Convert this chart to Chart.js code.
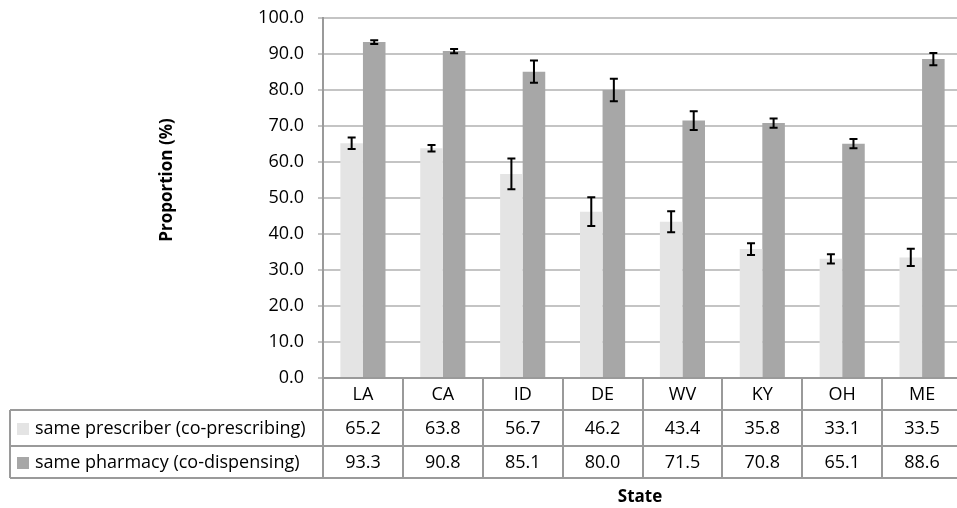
<!DOCTYPE html>
<html>
<head>
<meta charset="utf-8">
<script src="https://cdn.jsdelivr.net/npm/chart.js@4/dist/chart.umd.min.js"></script>
<style>
    html, body { margin: 0; padding: 0; background: #fff; overflow: hidden; }
    #wrap { width: 962px; height: 508px; }
</style>
</head>
<body>
<div id="wrap"><canvas id="chart" width="962" height="508"></canvas></div>
<script>
// --- data ---
const states = ['LA', 'CA', 'ID', 'DE', 'WV', 'KY', 'OH', 'ME'];
const prescriber = [65.2, 63.8, 56.7, 46.2, 43.4, 35.8, 33.1, 33.5];
const pharmacy = [93.3, 90.8, 85.1, 80.0, 71.5, 70.8, 65.1, 88.6];
const prescriberErr = [1.6, 0.9, 4.3, 4.0, 2.9, 1.6, 1.3, 2.4];
const pharmacyErr = [0.5, 0.6, 3.1, 3.1, 2.6, 1.3, 1.3, 1.7];
const seriesNames = ['same prescriber (co-prescribing)', 'same pharmacy (co-dispensing)'];
const yLabel = 'Proportion (%)';
const xLabel = 'State';

const lightGray = '#e4e4e4';
const darkGray = '#a7a7a7';
const lineGray = '#9a9a9a';
const FONT = '"Open Sans", Lato, sans-serif';

// error bars on top of each bar
const errorBars = {
    id: 'errorBars',
    afterDatasetsDraw(chart) {
        const ctx = chart.ctx;
        const y = chart.scales.y;
        const errs = [prescriberErr, pharmacyErr];
        ctx.save();
        ctx.strokeStyle = '#000';
        ctx.lineWidth = 2;
        chart.data.datasets.forEach((ds, di) => {
            chart.getDatasetMeta(di).data.forEach((bar, i) => {
                const v = ds.data[i];
                const top = y.getPixelForValue(v + errs[di][i]);
                const bot = y.getPixelForValue(v - errs[di][i]);
                const cap = 4;
                ctx.beginPath();
                ctx.moveTo(bar.x, top); ctx.lineTo(bar.x, bot);
                ctx.moveTo(bar.x - cap, top); ctx.lineTo(bar.x + cap, top);
                ctx.moveTo(bar.x - cap, bot); ctx.lineTo(bar.x + cap, bot);
                ctx.stroke();
            });
        });
        ctx.restore();
    }
};

// data table under the x axis, axis titles
const dataTable = {
    id: 'dataTable',
    afterDraw(chart) {
        const ctx = chart.ctx;
        const area = chart.chartArea;
        const n = states.length;
        const w = (area.right - area.left) / n;
        const tableLeft = 10;
        const rowTops = [area.bottom, 410, 446, 478];

        ctx.save();
        ctx.strokeStyle = lineGray;
        ctx.lineWidth = 2;
        ctx.beginPath();
        for (let i = 0; i <= n; i++) {
            const x = Math.round(area.left + i * w);
            ctx.moveTo(x, area.bottom); ctx.lineTo(x, rowTops[3]);
        }
        ctx.moveTo(tableLeft, rowTops[1]); ctx.lineTo(tableLeft, rowTops[3]);
        for (let r = 1; r < 4; r++) {
            ctx.moveTo(tableLeft, rowTops[r]); ctx.lineTo(area.right, rowTops[r]);
        }
        ctx.stroke();

        const rows = [prescriber, pharmacy];
        const colors = [lightGray, darkGray];
        ctx.font = '18px ' + FONT;
        ctx.textBaseline = 'middle';
        rows.forEach((vals, r) => {
            const cy = (rowTops[r + 1] + rowTops[r + 2]) / 2 + 1;
            ctx.fillStyle = colors[r];
            ctx.fillRect(17, cy - 6, 12, 12);
            ctx.fillStyle = '#000';
            ctx.textAlign = 'left';
            ctx.fillText(seriesNames[r], 35, cy);
            ctx.textAlign = 'center';
            vals.forEach((v, i) => {
                ctx.fillText(v.toFixed(1), chart.scales.x.getPixelForValue(i), cy);
            });
        });

        // axis titles
        ctx.font = 'bold 17px ' + FONT;
        ctx.textAlign = 'center';
        ctx.fillText(xLabel, (area.left + 957) / 2, 497);
        ctx.translate(167, 180);
        ctx.rotate(-Math.PI / 2);
        ctx.fillText(yLabel, 0, 0);
        ctx.restore();
    }
};

new Chart(document.getElementById('chart'), {
    type: 'bar',
    data: {
        labels: states,
        datasets: [
            { label: seriesNames[0], data: prescriber, backgroundColor: lightGray },
            { label: seriesNames[1], data: pharmacy, backgroundColor: darkGray }
        ]
    },
    options: {
        responsive: false,
        animation: false,
        layout: { padding: { left: 0, top: 18, right: 0, bottom: 0 } },
        datasets: { bar: { barPercentage: 1, categoryPercentage: 0.565 } },
        plugins: { legend: { display: false }, tooltip: { enabled: false } },
        scales: {
            x: {
                afterFit: s => { s.height = 130; },
                grid: { display: false, drawTicks: false },
                border: { display: true, color: lineGray, width: 2 },
                ticks: { color: '#000', font: { family: FONT, size: 18 }, padding: 6 }
            },
            y: {
                min: 0,
                max: 100,
                afterFit: s => { s.width = 323; s.paddingTop = 0; s.paddingBottom = 0; },
                border: { display: true, color: lineGray, width: 2 },
                grid: { color: '#c4c4c4', lineWidth: 2, tickLength: 5 },
                ticks: {
                    stepSize: 10,
                    color: '#000',
                    padding: 14,
                    font: { family: FONT, size: 18 },
                    callback: v => v.toFixed(1)
                }
            }
        }
    },
    plugins: [errorBars, dataTable]
});
</script>
</body>
</html>
